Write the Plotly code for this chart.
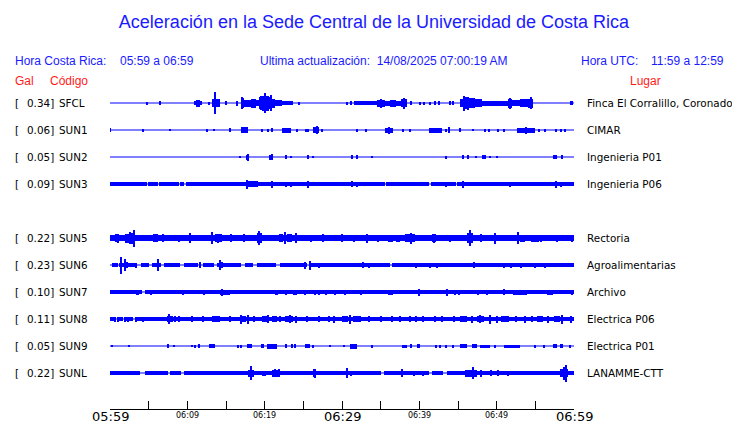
import plotly.graph_objects as go

# stations, peak acceleration (Gal) and site names
codes = ["SFCL", "SUN1", "SUN2", "SUN3", "SUN5", "SUN6", "SUN7", "SUN8", "SUN9", "SUNL"]
pga = [0.34, 0.06, 0.05, 0.09, 0.22, 0.23, 0.10, 0.11, 0.05, 0.22]
places = ["Finca El Corralillo, Coronado", "CIMAR", "Ingenieria P01", "Ingenieria P06",
          "Rectoria", "Agroalimentarias", "Archivo", "Electrica P06", "Electrica P01",
          "LANAMME-CTT"]

# time axis: minutes after 05:59 local
tick_minutes = [0, 5, 10, 15, 20, 25, 30, 35, 40, 45, 50, 55, 60]
tick_labels = ["05:59", "", "06:09", "", "06:19", "", "06:29", "", "06:39", "", "06:49", "", "06:59"]
major_labels = ["05:59", "06:29", "06:59"]

# trace envelopes
# bursts: (start min, end min, half amplitude px), spikes: (min, half amplitude px)
sfcl_bursts = [(10.9, 11.1, 2), (11.1, 11.6, 3.5), (11.6, 11.9, 2), (13.2, 14.2, 4),
               (16.3, 16.6, 2.5), (17.0, 17.3, 5), (17.3, 18.2, 3.5), (18.2, 18.9, 4.5),
               (18.9, 19.3, 3), (19.3, 19.7, 6), (19.7, 20.5, 7.5), (20.5, 21.0, 6),
               (21.0, 21.4, 4.5), (21.4, 22.2, 3), (22.2, 23.7, 2), (31.6, 34.5, 2),
               (34.5, 35.5, 3.5), (35.5, 36.2, 2.5), (36.2, 37.0, 3.5), (37.0, 37.6, 2.5),
               (37.6, 38.4, 4), (45.3, 45.6, 4), (45.6, 46.4, 6), (46.4, 47.2, 5),
               (47.2, 48.1, 4), (48.1, 51.5, 2.5), (51.5, 52.0, 4.5), (52.0, 53.0, 3),
               (53.0, 54.0, 4), (54.0, 54.7, 4.5), (59.5, 59.9, 2)]
sfcl_spikes = [(4.8, 1.5), (6.5, 2), (12.8, 1.5), (13.6, 11), (15.0, 2), (17.1, 6), (19.5, 7),
               (20.1, 10), (20.8, 8), (24.4, 1.5), (30.7, 1.5), (31.2, 2), (35.0, 4.5),
               (38.0, 5.5), (38.9, 2), (40.1, 1.5), (40.6, 1.5), (41.4, 1.5), (42.0, 2),
               (42.5, 2), (44.0, 2), (44.4, 2), (45.8, 7.5), (46.3, 6.5), (51.7, 5.5),
               (54.4, 6)]

sun1_bursts = [(16.9, 17.8, 3), (20.8, 21.1, 2), (22.2, 23.4, 2.5), (26.2, 27.0, 3),
               (35.6, 36.6, 2.5), (41.3, 42.9, 2.5), (52.6, 55.0, 2.5)]
sun1_spikes = [(0.0, 2), (4.3, 1.5), (7.8, 1), (12.6, 1.5), (13.5, 1), (15.5, 2), (19.6, 1.5),
               (20.5, 1.5), (24.2, 1.5), (25.3, 1.5), (25.6, 1.5), (26.8, 4), (27.4, 1.5),
               (31.9, 1.5), (33.1, 1.5), (36.1, 3.5), (37.9, 1.5), (38.8, 1.5), (43.4, 1.5),
               (43.9, 3), (45.3, 2), (47.0, 1), (48.5, 1.5), (49.0, 1.5), (50.2, 1.5),
               (50.9, 1.5), (53.8, 3.5), (55.5, 1.5), (56.2, 1.5), (57.7, 1.5), (58.3, 1.5),
               (58.9, 1.5)]

sun2_bursts = [(17.6, 18.0, 2.5), (20.6, 21.1, 2.5), (48.1, 48.6, 2), (57.3, 57.8, 2)]
sun2_spikes = [(16.8, 1), (17.8, 3.5), (21.0, 3), (22.8, 2), (23.4, 1), (25.6, 2), (26.2, 1),
               (31.3, 2), (31.9, 2), (33.9, 1), (43.4, 1.5), (45.7, 2), (46.3, 2), (47.3, 1),
               (49.2, 1), (50.1, 1), (58.4, 2)]

sun3_bursts = [(0.0, 4.75, 2), (4.95, 6.15, 2), (6.35, 8.9, 2), (9.1, 9.6, 2), (9.8, 35.5, 2),
               (35.7, 41.3, 2), (41.5, 44.7, 2), (44.9, 60.0, 2), (17.8, 19.1, 3)]
sun3_spikes = [(17.7, 4.5), (20.9, 3.5), (22.8, 2.5), (23.4, 2.5), (25.6, 3.5), (31.3, 3),
               (31.9, 2.5), (43.4, 2.5), (45.7, 3.5), (51.7, 2.5), (57.7, 3.5), (58.3, 2.5)]

sun5_bursts = [(0.0, 60.0, 3), (0.6, 1.2, 4), (1.9, 2.4, 4.5), (2.4, 3.2, 5.5), (5.6, 6.2, 4),
               (13.6, 14.5, 4), (19.0, 19.6, 5), (21.8, 22.4, 4), (22.9, 23.5, 4),
               (36.0, 36.6, 3.5), (37.0, 37.5, 3.5), (38.2, 39.4, 4), (41.7, 42.2, 4),
               (46.1, 47.0, 5), (53.0, 53.6, 3.5), (54.4, 55.5, 3.5)]
sun5_spikes = [(3.1, 8.5), (2.6, 6), (1.0, 4.5), (6.9, 4), (8.9, 3.5), (10.4, 5), (13.2, 6),
               (14.0, 4.5), (15.6, 4), (17.3, 4), (19.3, 7), (22.6, 6), (24.1, 5), (26.0, 3.5),
               (27.5, 4), (30.0, 4), (31.5, 3.5), (33.2, 4.5), (34.7, 3.5), (38.9, 5.5),
               (41.9, 4.5), (44.0, 3.5), (46.6, 8), (48.0, 4), (49.8, 5.5), (52.8, 6),
               (55.8, 3.5), (57.8, 3.5), (59.7, 3.5)]

sun6_bursts = [(0.3, 1.0, 2), (1.2, 3.5, 2), (4.0, 5.0, 2), (5.4, 6.6, 2), (7.0, 9.0, 2),
               (9.6, 11.4, 2), (12.0, 13.4, 2), (13.8, 17.0, 2), (17.4, 18.5, 2), (19.0, 21.5, 2),
               (22.0, 25.5, 2), (26.0, 36.2, 2), (36.5, 60.0, 2)]
sun6_spikes = [(1.4, 8.5), (1.9, 6), (2.2, 3), (3.4, 2.5), (6.2, 6), (11.7, 3), (14.2, 5),
               (14.5, 3), (25.2, 3.5), (25.9, 4.5), (27.0, 2.5), (32.7, 3), (33.5, 2.5),
               (39.6, 2.5), (41.4, 2.5), (42.3, 2.5), (47.1, 3), (50.9, 2.5), (51.8, 2.5),
               (53.2, 2.5), (55.0, 2.5), (56.3, 2.5)]

sun7_bursts = [(0.0, 4.1, 2), (4.5, 60.0, 2), (3.3, 3.8, 2.5), (14.2, 15.5, 2.5), (21.3, 21.7, 2.5),
               (23.7, 24.2, 2.5), (36.0, 36.6, 2.5), (37.5, 38.4, 2.3), (52.1, 53.9, 2.5),
               (56.5, 57.3, 2.5)]
sun7_spikes = [(5.3, 2.5), (9.4, 2.5), (12.1, 2.5), (14.5, 3.5), (22.8, 2.5), (25.2, 2.5),
               (26.5, 2.5), (27.0, 2.5), (28.0, 2.5), (29.1, 2.5), (30.4, 2.5), (32.5, 2.5),
               (33.8, 2.3), (40.0, 3.5), (43.6, 3.5), (44.6, 2.5), (45.1, 2.5), (47.6, 2.5),
               (48.7, 2.5), (50.9, 3), (59.7, 2.5)]

sun8_bursts = [(0.0, 0.6, 2), (0.9, 1.7, 2), (2.0, 3.0, 2), (3.3, 60.0, 2), (7.4, 8.2, 3),
               (13.5, 14.2, 3), (17.0, 17.6, 3), (19.6, 20.4, 3), (21.0, 21.6, 3),
               (22.6, 23.6, 3), (30.0, 30.8, 3), (31.4, 32.4, 3), (45.2, 46.2, 3),
               (47.5, 48.3, 3), (50.6, 51.6, 3), (55.2, 56.0, 3), (57.4, 58.2, 3)]
sun8_spikes = [(0.6, 2.5), (1.0, 2.5), (1.9, 2.5), (2.3, 2.5), (3.4, 2.5), (4.3, 2.5), (7.6, 5),
               (8.4, 3), (8.9, 3), (10.6, 3), (12.0, 3), (13.3, 3), (15.5, 3), (17.0, 4.5),
               (17.8, 4.5), (18.6, 3), (20.5, 4), (22.0, 3), (23.3, 4), (24.0, 3.5), (25.5, 3),
               (27.0, 3), (28.3, 3), (29.0, 3.5), (31.0, 4.5), (33.5, 3), (35.0, 3), (36.5, 3),
               (37.5, 3), (38.8, 3), (39.6, 3), (40.5, 3), (42.0, 3), (43.0, 3), (44.5, 3),
               (46.8, 3.5), (47.8, 4), (49.1, 4.5), (50.0, 3.5), (52.5, 3), (53.7, 3.5),
               (54.6, 3), (56.6, 3.5), (58.4, 4.5), (59.6, 3.5)]

sun9_bursts = [(12.8, 13.6, 2), (17.7, 18.3, 2), (20.3, 21.6, 2.5), (25.2, 25.9, 2),
               (31.0, 31.9, 2.5), (37.7, 38.4, 1.5), (39.7, 40.1, 2), (45.3, 46.1, 2),
               (46.8, 47.4, 2), (47.8, 49.1, 1.5), (50.9, 53.0, 1.5), (57.3, 57.8, 2),
               (58.2, 58.6, 2)]
sun9_spikes = [(0.3, 1), (2.4, 1), (7.5, 2), (8.3, 1), (10.6, 1), (11.0, 1.5), (11.5, 2),
               (16.6, 1.5), (17.0, 1.5), (19.6, 2), (19.8, 2), (22.8, 2), (23.5, 2), (23.9, 2),
               (26.3, 1.5), (28.4, 1), (30.2, 1), (33.9, 1.5), (38.9, 2), (42.2, 1.5),
               (42.7, 1.5), (43.5, 1.5), (44.3, 1.5), (49.8, 1.5), (55.0, 1.5), (56.1, 1.5),
               (59.5, 1.5)]

sunl_bursts = [(0.0, 3.9, 2), (4.5, 7.5, 2), (7.7, 9.2, 2), (9.6, 18.0, 2), (18.4, 35.0, 2),
               (35.4, 41.2, 2), (41.6, 43.0, 2), (43.6, 60.0, 2), (17.9, 18.6, 3.5),
               (19.7, 20.2, 2.5), (21.0, 22.0, 3.5), (26.3, 26.6, 4), (37.7, 37.9, 3.5),
               (45.9, 47.4, 3.5), (58.2, 59.2, 4)]
sunl_spikes = [(18.2, 7), (21.4, 4), (21.9, 4), (26.5, 4.5), (27.5, 2), (30.6, 5), (31.2, 2.5),
               (33.8, 2), (37.8, 4), (39.3, 2.5), (40.5, 2.5), (46.9, 6), (48.0, 3.5), (49.3, 3),
               (50.2, 3), (51.5, 2.5), (55.6, 2), (58.7, 6.5), (59.0, 8.5)]

bursts = [sfcl_bursts, sun1_bursts, sun2_bursts, sun3_bursts, sun5_bursts,
          sun6_bursts, sun7_bursts, sun8_bursts, sun9_bursts, sunl_bursts]
spikes = [sfcl_spikes, sun1_spikes, sun2_spikes, sun3_spikes, sun5_spikes,
          sun6_spikes, sun7_spikes, sun8_spikes, sun9_spikes, sunl_spikes]

BLUE = "#0000ff"
TEXT_BLUE = "#1a1aff"
RED = "#ff1a1a"
ROW_PX = 27          # pixels between traces
SPIKE_W = 0.14       # spike width in minutes (~1px)
PAGE = 8             # html body margin

# plot box in page pixels (740x423)
L, R, T, B = 110, 574, 85, 409
W, H = 740 - PAGE, 423 - PAGE


def xp(px):
    return (px - L) / (R - L)


def yp(py):
    return (B - py) / (B - T)


fig = go.Figure()
lab_font = dict(family="DejaVu Sans", size=10.4, color="black")

for i, code in enumerate(codes):
    row = -(i if i < 4 else i + 1)   # blank slot where SUN4 would be
    xs, ws, bases, hs = [], [], [], []
    for t0, t1, h in bursts[i]:
        xs.append((t0 + t1) / 2)
        ws.append(t1 - t0)
        bases.append(row - h / ROW_PX)
        hs.append(2 * h / ROW_PX)
    for t, h in spikes[i]:
        xs.append(t)
        ws.append(SPIKE_W)
        bases.append(row - h / ROW_PX)
        hs.append(2 * h / ROW_PX)

    fig.add_trace(go.Scatter(x=[0, 60], y=[row, row], mode="lines",
                             line=dict(color=BLUE, width=1.2), hoverinfo="skip"))
    fig.add_trace(go.Bar(x=xs, y=hs, base=bases, width=ws, marker_color=BLUE,
                         marker_line_width=0, hoverinfo="skip"))

    fig.add_annotation(x=xp(13), y=row, xref="paper", yref="y", text="[",
                       xanchor="left", showarrow=False, font=lab_font)
    fig.add_annotation(x=xp(56), y=row, xref="paper", yref="y", text=f"{pga[i]:.2f}]",
                       xanchor="right", showarrow=False, font=lab_font)
    fig.add_annotation(x=xp(57), y=row, xref="paper", yref="y", text=code,
                       xanchor="left", showarrow=False, font=lab_font)
    fig.add_annotation(x=xp(585), y=row, xref="paper", yref="y", text=places[i],
                       xanchor="left", showarrow=False, font=lab_font)

# header texts
hdr = dict(family="Liberation Sans, Arial", size=12, color=TEXT_BLUE)
red = dict(family="Liberation Sans, Arial", size=12, color=RED)
header = [
    (13, 61, "Hora Costa Rica:", hdr),
    (118, 61, "05:59 a 06:59", hdr),
    (258, 61, "Ultima actualización:  14/08/2025 07:00:19 AM", hdr),
    (579, 61, "Hora UTC:", hdr),
    (649, 61, "11:59 a 12:59", hdr),
    (13, 81, "Gal", red),
    (48, 81, "Código", red),
    (628, 81, "Lugar", red),
]
for px, py, txt, f in header:
    fig.add_annotation(x=xp(px), y=yp(py), xref="paper", yref="paper", text=txt,
                       xanchor="left", yanchor="middle", showarrow=False, font=f)

# time labels under the axis: large on the half hours, small in between
for t, lab in zip(tick_minutes, tick_labels):
    if not lab:
        continue
    major = lab in major_labels
    fig.add_annotation(x=t, y=0, xref="x", yref="paper", text=lab, xanchor="center",
                       yanchor="top", yshift=1 if major else -1, borderpad=0,
                       showarrow=False,
                       font=dict(family="DejaVu Sans", size=13 if major else 8, color="black"))

fig.update_layout(
    width=W, height=H,
    margin=dict(l=L - PAGE, r=740 - R, t=T - PAGE, b=423 - B, autoexpand=False),
    paper_bgcolor="white", plot_bgcolor="white",
    showlegend=False, barmode="overlay", bargap=0,
    title=dict(text="Aceleración en la Sede Central de la Universidad de Costa Rica",
               x=(374 - PAGE) / W, xanchor="center", y=1 - (22 - PAGE) / H, yanchor="middle",
               font=dict(family="Liberation Sans, Arial", size=18, color=TEXT_BLUE)),
    xaxis=dict(range=[0, 60], showline=True, linecolor="black", linewidth=1,
               ticks="inside", ticklen=8, tickcolor="black", tickwidth=1,
               tickvals=tick_minutes, showticklabels=False, showgrid=False,
               zeroline=False, automargin=False),
    yaxis=dict(range=[-10 - (B - 373) / ROW_PX, (103 - T) / ROW_PX], visible=False),
)

fig.write_html("out.html")
